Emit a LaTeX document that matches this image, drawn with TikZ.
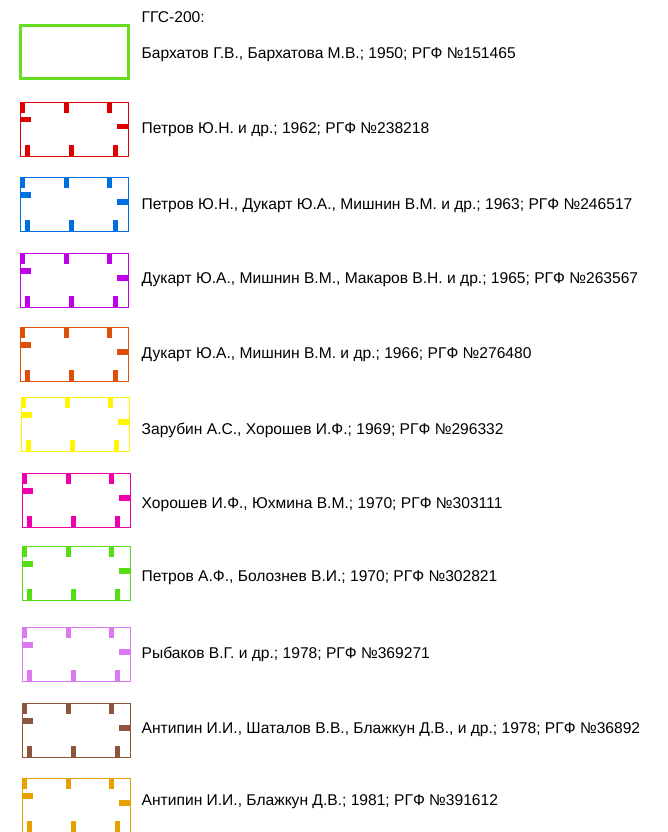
\documentclass[tikz,border=0pt]{standalone}
\usepackage{fontspec}
\setmainfont{Liberation Sans}
\definecolor{cA}{RGB}{102,221,34}
\definecolor{cRed}{RGB}{222,0,0}
\definecolor{cBlue}{RGB}{0,112,224}
\definecolor{cPurple}{RGB}{190,0,230}
\definecolor{cOrange}{RGB}{220,80,10}
\definecolor{cYellow}{RGB}{255,245,0}
\definecolor{cMagenta}{RGB}{240,0,170}
\definecolor{cGreen}{RGB}{85,222,20}
\definecolor{cPink}{RGB}{222,120,240}
\definecolor{cBrown}{RGB}{140,85,60}
\definecolor{cGold}{RGB}{230,160,0}
\newcommand\tickbox[3]{%
  \begin{scope}[shift={(#1,#2)}]
    \draw[#3, line width=0.9pt] (0,0) rectangle (108,54);
    \fill[#3] (0,0) rectangle (5,11);
    \fill[#3] (44,0) rectangle (49,11);
    \fill[#3] (87,0) rectangle (92,11);
    \fill[#3] (1,15) rectangle (11,20.5);
    \fill[#3] (97,22) rectangle (108,27.5);
    \fill[#3] (5,43) rectangle (10,54);
    \fill[#3] (49,43) rectangle (54,54);
    \fill[#3] (93,43) rectangle (98,54);
  \end{scope}}
\begin{document}
\begin{tikzpicture}[x=1pt,y=-1pt,
  lbl/.style={anchor=west, inner sep=0pt, font=\fontsize{15.6}{18}\selectfont}]
\useasboundingbox (0,0) rectangle (667,832);
\draw[cA, line width=3pt] (20.5,25.5) rectangle (128,78.5);
\tickbox{20}{102}{cRed}
\tickbox{20}{177}{cBlue}
\tickbox{20}{253}{cPurple}
\tickbox{20}{327}{cOrange}
\tickbox{21}{397}{cYellow}
\tickbox{22}{473}{cMagenta}
\tickbox{22}{546}{cGreen}
\tickbox{22}{627}{cPink}
\tickbox{22}{703}{cBrown}
\tickbox{22}{778}{cGold}
\node[lbl] (t0) at (141.5,17) {ГГС-200:};
\node[lbl] (t1) at (141.5,55) {Бархатов Г.В., Бархатова М.В.; 1950; РГФ №151465};
\node[lbl] (t2) at (141.5,130) {Петров Ю.Н. и др.; 1962; РГФ №238218};
\node[lbl] (t3) at (141.5,206) {Петров Ю.Н., Дукарт Ю.А., Мишнин В.М. и др.; 1963; РГФ №246517};
\node[lbl] (t4) at (141.5,280) {Дукарт Ю.А., Мишнин В.М., Макаров В.Н. и др.; 1965; РГФ №263567};
\node[lbl] (t5) at (141.5,355) {Дукарт Ю.А., Мишнин В.М. и др.; 1966; РГФ №276480};
\node[lbl] (t6) at (141.5,430) {Зарубин А.С., Хорошев И.Ф.; 1969; РГФ №296332};
\node[lbl] (t7) at (141.5,505) {Хорошев И.Ф., Юхмина В.М.; 1970; РГФ №303111};
\node[lbl] (t8) at (141.5,578) {Петров А.Ф., Болознев В.И.; 1970; РГФ №302821};
\node[lbl] (t9) at (141.5,654) {Рыбаков В.Г. и др.; 1978; РГФ №369271};
\node[lbl] (t10) at (141.5,730) {Антипин И.И., Шаталов В.В., Блажкун Д.В., и др.; 1978; РГФ №36892};
\node[lbl] (t11) at (141.5,802) {Антипин И.И., Блажкун Д.В.; 1981; РГФ №391612};
\end{tikzpicture}
\end{document}
